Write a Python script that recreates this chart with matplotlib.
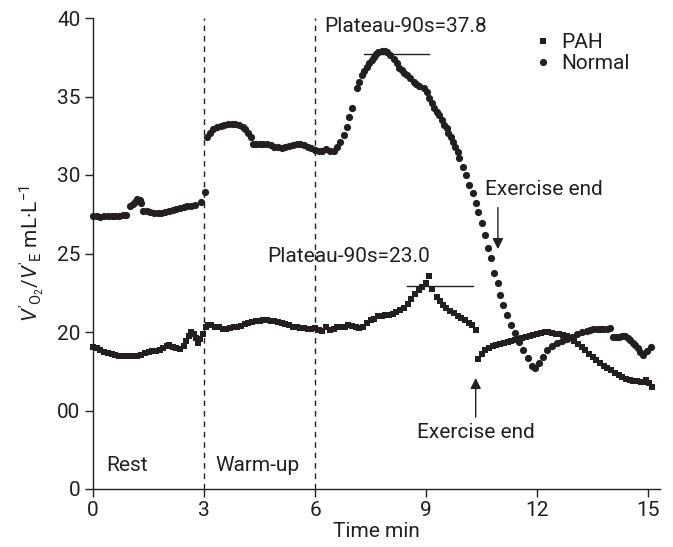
import matplotlib
matplotlib.use("Agg")
import matplotlib.pyplot as plt

plt.rcParams['font.family'] = ['Roboto', 'DejaVu Sans']
plt.rcParams['mathtext.fontset'] = 'custom'
plt.rcParams['mathtext.rm'] = 'Roboto'
plt.rcParams['mathtext.it'] = 'Roboto:italic'

# ---------------- data ----------------
normal_t = [0.0, 0.1, 0.2, 0.3, 0.4, 0.5, 0.6, 0.7, 0.8, 0.9,
            1.0, 1.07, 1.14, 1.2, 1.26, 1.31, 1.36, 1.45, 1.55, 1.65, 1.75, 1.85,
            1.95, 2.05, 2.15, 2.25, 2.35, 2.45, 2.55, 2.65, 2.75, 2.92, 3.02,
            3.07, 3.15, 3.25, 3.35, 3.45, 3.55, 3.65, 3.75, 3.85, 3.95, 4.05,
            4.12, 4.2, 4.27, 4.33, 4.4, 4.5, 4.6, 4.7, 4.8, 4.9, 5.0, 5.1, 5.2,
            5.3, 5.4, 5.5, 5.6, 5.7, 5.8, 5.9, 6.0, 6.1, 6.2, 6.3, 6.4, 6.5,
            6.6, 6.68, 6.77, 6.86, 6.93, 6.99, 7.13, 7.2, 7.26, 7.32, 7.4, 7.47,
            7.53, 7.59, 7.65, 7.71, 7.8, 7.89, 7.95, 8.03, 8.12, 8.21, 8.28,
            8.34, 8.41, 8.48, 8.57, 8.66, 8.73, 8.82, 8.93, 9.02, 9.09, 9.15,
            9.22, 9.29, 9.36, 9.42, 9.49, 9.56, 9.6, 9.67, 9.74, 9.78, 9.85,
            9.9, 9.99, 10.08, 10.17, 10.26, 10.35, 10.41, 10.51, 10.59, 10.68,
            10.75, 10.84, 10.93, 11.0, 11.09, 11.18, 11.29, 11.41, 11.52, 11.63,
            11.74, 11.86, 11.95, 12.06, 12.17, 12.26, 12.4, 12.53, 12.67, 12.8,
            12.94, 13.07, 13.21, 13.34, 13.43, 13.52, 13.61, 13.7, 13.79, 13.88,
            13.97, 14.06, 14.13, 14.2, 14.29, 14.38, 14.45, 14.51, 14.58, 14.65,
            14.72, 14.78, 14.87, 14.96, 15.07]
normal_v = [27.4, 27.4, 27.35, 27.4, 27.4, 27.4, 27.4, 27.4, 27.45, 27.45,
            28.0, 28.15, 28.3, 28.45, 28.4, 28.2, 27.7, 27.7, 27.65, 27.6, 27.55, 27.6,
            27.65, 27.7, 27.8, 27.85, 27.9, 27.95, 28.0, 28.05, 28.1, 28.3, 28.9,
            32.44, 32.7, 32.9, 33.05, 33.1, 33.2, 33.22, 33.25, 33.25, 33.2, 33.05,
            32.95, 32.7, 32.4, 32.0, 32.0, 32.0, 32.0, 31.95, 31.9, 31.8, 31.78, 31.75, 31.78,
            31.85, 31.92, 32.0, 31.95, 31.88, 31.8, 31.7, 31.62, 31.55, 31.55, 31.65, 31.55, 31.5,
            31.8, 32.12, 32.55, 33.08, 33.71, 34.25, 35.52, 35.94, 36.37, 36.64, 36.9, 37.11,
            37.32, 37.5, 37.69, 37.85, 37.92, 37.92, 37.85, 37.64, 37.37, 37.11, 36.8,
            36.69, 36.52, 36.37, 36.16, 35.94, 35.8, 35.67, 35.52, 35.31, 34.89, 34.57,
            34.25, 34.03, 33.82, 33.5, 33.18, 32.97, 32.66, 32.4, 32.12, 31.8, 31.48,
            31.06, 30.53, 30.0, 29.36, 28.83, 28.2, 27.66, 26.96, 26.18, 25.33,
            24.69, 23.74, 23.1, 22.36, 21.72, 21.08, 20.45, 19.92, 19.38, 18.85,
            18.32, 17.83, 17.73, 18.0, 18.39, 18.85, 19.1, 19.28, 19.43, 19.55,
            19.7, 19.85, 20.0, 20.08, 20.12, 20.17, 20.17, 20.17, 20.18, 20.2,
            20.27, 19.66, 19.68, 19.7, 19.72, 19.75, 19.6, 19.49, 19.33, 19.17,
            18.95, 18.75, 18.54, 18.79, 19.06]

pah_t = [0.0, 0.1, 0.2, 0.3, 0.4, 0.5, 0.6, 0.7, 0.8, 0.9, 1.0, 1.1, 1.2, 1.3,
         1.4, 1.5, 1.6, 1.7, 1.8, 1.9, 2.0, 2.05, 2.15, 2.25, 2.35, 2.45, 2.52,
         2.6, 2.65, 2.72, 2.78, 2.84, 2.9, 2.96, 3.04, 3.12, 3.2, 3.3, 3.4, 3.5,
         3.6, 3.7, 3.8, 3.9, 4.0, 4.1, 4.2, 4.3, 4.4, 4.5, 4.6, 4.7, 4.8, 4.9,
         5.0, 5.1, 5.2, 5.3, 5.4, 5.5, 5.6, 5.7, 5.8, 5.9, 6.0, 6.1, 6.2, 6.3,
         6.4, 6.5, 6.6, 6.7, 6.8, 6.9, 7.0, 7.1, 7.2, 7.3, 7.4, 7.5, 7.6, 7.7,
         7.8, 7.9, 8.0, 8.1, 8.2, 8.3, 8.4, 8.5, 8.6, 8.7, 8.8, 8.9, 9.0, 9.08,
         9.17, 9.3, 9.38, 9.46, 9.55, 9.65, 9.75, 9.85, 9.95, 10.05, 10.15,
         10.25, 10.35,
         10.4, 10.5, 10.6, 10.7, 10.8, 10.9, 11.0, 11.1, 11.2, 11.3, 11.4, 11.5,
         11.6, 11.7, 11.8, 11.9, 12.0, 12.1, 12.2, 12.3, 12.4, 12.5, 12.6, 12.7,
         12.8, 12.9, 13.0, 13.1, 13.2, 13.3, 13.4, 13.5, 13.6, 13.7, 13.8, 13.9,
         14.0, 14.1, 14.2, 14.3, 14.4, 14.5, 14.6, 14.7, 14.8, 14.9, 14.95,
         15.03, 15.1]
pah_v = [19.06, 18.95, 18.85, 18.75, 18.65, 18.6, 18.55, 18.5, 18.5, 18.5, 18.5, 18.5, 18.5, 18.55,
         18.65, 18.72, 18.78, 18.82, 18.88, 18.95, 19.1, 19.2, 19.05, 18.95, 18.9, 19.1, 19.4,
         19.75, 20.0, 19.85, 19.6, 19.3, 19.55, 19.9, 20.3, 20.45, 20.45, 20.35, 20.3, 20.2,
         20.2, 20.25, 20.3, 20.35, 20.4, 20.5, 20.6, 20.65, 20.7, 20.72, 20.75, 20.75, 20.72, 20.68,
         20.62, 20.55, 20.5, 20.42, 20.35, 20.3, 20.28, 20.25, 20.2, 20.18, 20.25, 20.15, 20.05, 20.3,
         20.1, 20.2, 20.3, 20.35, 20.3, 20.45, 20.4, 20.35, 20.25, 20.3, 20.55, 20.75, 20.85, 21.0,
         21.05, 21.1, 21.1, 21.15, 21.25, 21.4, 21.55, 21.8, 22.1, 22.4, 22.65, 22.85, 23.1, 23.55,
         22.75, 22.2, 21.95, 21.7, 21.5, 21.35, 21.2, 21.05, 20.9, 20.75, 20.6,
         20.45, 20.15,
         18.3, 18.6, 18.85, 19.0, 19.1, 19.18, 19.25, 19.3, 19.38, 19.45, 19.5, 19.55,
         19.62, 19.68, 19.72, 19.8, 19.9, 19.95, 20.0, 19.98, 19.95, 19.9, 19.88, 19.8,
         19.72, 19.62, 19.45, 19.25, 19.06, 18.85, 18.6, 18.4, 18.2, 18.0, 17.85, 17.7,
         17.55, 17.4, 17.25, 17.12, 17.0, 16.95, 16.9, 16.85, 16.82, 16.8, 16.95,
         16.75, 16.5]

phase_bounds = [3, 6]
phase_labels = ["Rest", "Warm-up"]
phase_label_x = [0.35, 3.3]
plateau_normal = 37.8
plateau_normal_span = [7.31, 9.08]
plateau_pah = 23.0
plateau_pah_span = [8.48, 10.26]
exercise_end_normal = 10.94
exercise_end_pah = 10.34

ytick_vals = [10, 15, 20, 25, 30, 35, 40]
ytick_labels = ["0", "00", "20", "25", "30", "35", "40"]
xtick_vals = [0, 3, 6, 9, 12, 15]

# ---------------- figure ----------------
W, H = 673, 547
fig = plt.figure(figsize=(W / 100, H / 100), dpi=100)
ax = fig.add_axes([93 / W, 1 - 489 / H, (660 - 93) / W, (489 - 18) / H])

fs = 15
col = '#231f20'

ax.plot(pah_t, pah_v, linestyle='none', marker='s', markersize=5.0,
        color=col, markeredgewidth=0, label='PAH', clip_on=False)
ax.plot(normal_t, normal_v, linestyle='none', marker='o', markersize=5.2,
        color=col, markeredgewidth=0, label='Normal', clip_on=False)

for xb in phase_bounds:
    ax.axvline(xb, color=col, linestyle=(0, (4, 3.5)), linewidth=1.0)

for lab, lx in zip(phase_labels, phase_label_x):
    ax.text(lx, 11.5, lab, fontsize=fs, color=col, va='center', ha='left')

# plateau lines
ax.plot(plateau_normal_span, [plateau_normal - 0.1] * 2, color=col, linewidth=1.0)
ax.plot(plateau_pah_span, [plateau_pah - 0.07] * 2, color=col, linewidth=1.0)
ax.text(6.25, 39.43, "Plateau-90s=%.1f" % plateau_normal, fontsize=fs, color=col,
        va='center', ha='left')
ax.text(4.7, 24.78, "Plateau-90s=%.1f" % plateau_pah, fontsize=fs, color=col,
        va='center', ha='left')

# exercise end arrows
ax.annotate("", xy=(exercise_end_normal, 25.1), xytext=(exercise_end_normal, 28.1),
            arrowprops=dict(arrowstyle='-|>', color=col, lw=1.0, mutation_scale=16))
ax.text(10.6, 29.1, "Exercise end", fontsize=fs, color=col, va='center', ha='left')
ax.annotate("", xy=(exercise_end_pah, 17.25), xytext=(exercise_end_pah, 14.4),
            arrowprops=dict(arrowstyle='-|>', color=col, lw=1.0, mutation_scale=16))
ax.text(8.75, 13.63, "Exercise end", fontsize=fs, color=col, va='center', ha='left')

ax.set_xlim(0, 15.32)
ax.set_ylim(10, 40)
ax.set_xticks(xtick_vals)
ax.set_yticks(ytick_vals)
ax.set_yticklabels(ytick_labels)
ax.tick_params(direction='out', length=6, width=1.0, labelsize=fs, colors=col, pad=3)
for s in ['top', 'right']:
    ax.spines[s].set_visible(False)
for s in ['left', 'bottom']:
    ax.spines[s].set_linewidth(1.0)
    ax.spines[s].set_color(col)

ax.set_xlabel("Time min", fontsize=fs, color=col, labelpad=1)
ax.set_ylabel(r"$\mathit{V}'_{\mathrm{O_2}}/\mathit{V}'_{\mathrm{E}}$ mL·L$^{-1}$",
              fontsize=fs, color=col, labelpad=8)

ax.legend(loc='upper left', bbox_to_anchor=(0.76, 0.99), frameon=False,
          fontsize=fs, handlelength=0.8, handletextpad=0.5, labelspacing=0.1,
          borderpad=0, labelcolor=col)

fig.savefig("out.png", dpi=100)
